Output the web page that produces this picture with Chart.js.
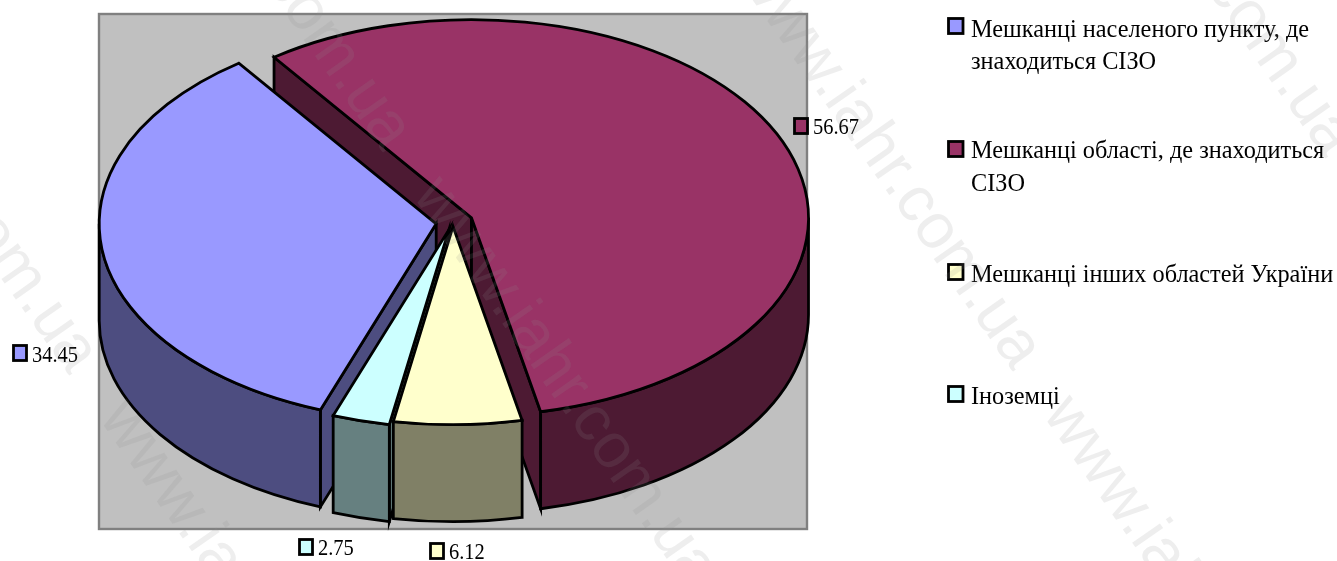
<!DOCTYPE html>
<html><head><meta charset="utf-8">
<script src="https://cdn.jsdelivr.net/npm/chart.js@4"></script>
<style>html,body{margin:0;padding:0;background:#fff}canvas{display:block}</style>
</head><body><canvas id="c" width="1337" height="561"></canvas>
<script>
const categories = [
  ['Мешканці населеного пункту, де', 'знаходиться СІЗО'],
  ['Мешканці області, де знаходиться', 'СІЗО'],
  ['Мешканці інших областей України'],
  ['Іноземці']
];
const values = [34.45, 56.67, 6.12, 2.75];
const valueLabels = ['34.45', '56.67', '6.12', '2.75'];
const topColors = ['#9999FF', '#993366', '#FFFFCC', '#CCFFFF'];
const wallColors = ['#4D4D80', '#4D1A33', '#808066', '#668080'];

const SQUASH = 0.588, DEPTH = 97, RADIUS = 337, ROTATION = 200.1;
const explodeX = [-17.8, 17.5, -1, -5];
const explodeY = [1.8, -4.2, 4.5, 7.5];
const paintOrder = [1, 0, 3, 2];
const plotBox = {l: 99, t: 14, r: 807, b: 529};
const legendBoxes = [[948.5, 18.5], [948.5, 141.5], [948.5, 264.5], [948.5, 386.5]];
const legendBaselines = [[36.5, 68.5], [158, 191], [282], [404]];
const labelBoxes = [[13.5, 345.5], [794.5, 118.5], [430.5, 543.5], [299.5, 539.5]];
const labelTextX = [32, 813, 449, 318];
const labelBaselines = [362, 134, 559, 555];
const watermark = 'www.iahr.com.ua';
const watermarkOrigins = [[412,195],[105.5,-243.5],[-208,-20.5],[98.5,418],[735.5,-24.5],[1042,414],[1048,-237.5]];

function textAt(ctx, s, x, y, sx) {
  ctx.save(); ctx.translate(x, y); ctx.scale(sx, 1); ctx.fillText(s, 0, 0); ctx.restore();
}
function marker(ctx, x, y, w, h, color) {
  ctx.fillStyle = color; ctx.strokeStyle = '#000'; ctx.lineWidth = 2.8;
  ctx.fillRect(x, y, w, h); ctx.strokeRect(x, y, w, h);
}
const pie3d = {
  id: 'pie3d',
  beforeDraw(chart) {
    const c = chart.ctx;
    c.save();
    c.fillStyle = '#C0C0C0'; c.strokeStyle = '#808080'; c.lineWidth = 2.4;
    c.fillRect(plotBox.l, plotBox.t, plotBox.r - plotBox.l, plotBox.b - plotBox.t);
    c.strokeRect(plotBox.l, plotBox.t, plotBox.r - plotBox.l, plotBox.b - plotBox.t);
    c.restore();
  },
  beforeDatasetsDraw(chart) {
    const c = chart.ctx, arcs = chart.getDatasetMeta(0).data;
    const outline = () => { c.strokeStyle = '#000'; c.lineWidth = 2.8; c.lineJoin = 'miter'; c.stroke(); };
    paintOrder.forEach(i => {
      const a = arcs[i], r = a.outerRadius, ry = r * SQUASH;
      const ax = a.x + explodeX[i], ay = a.y + explodeY[i];
      const s = a.startAngle, e = a.endAngle;
      const px = t => ax + r * Math.cos(t), py = t => ay + ry * Math.sin(t);
      c.save();
      c.fillStyle = wallColors[i];
      [[s, Math.cos(s) < 0], [e, Math.cos(e) > 0]].forEach(([t, vis]) => {
        if (!vis) return;
        c.beginPath();
        c.moveTo(ax, ay); c.lineTo(px(t), py(t));
        c.lineTo(px(t), py(t) + DEPTH); c.lineTo(ax, ay + DEPTH); c.closePath();
        c.fill(); outline();
      });
      for (let n = 0; n < 2; n++) {
        const lo = Math.max(s, n * 2 * Math.PI), hi = Math.min(e, n * 2 * Math.PI + Math.PI);
        if (hi <= lo) continue;
        c.beginPath();
        c.ellipse(ax, ay, r, ry, 0, lo, hi, false);
        c.ellipse(ax, ay + DEPTH, r, ry, 0, hi, lo, true);
        c.closePath(); c.fill(); outline();
      }
      c.save();
      c.translate(explodeX[i], a.y + explodeY[i]);
      c.scale(1, SQUASH);
      c.translate(0, -a.y);
      a.draw(c);
      c.restore();
      c.beginPath();
      c.moveTo(ax, ay);
      c.ellipse(ax, ay, r, ry, 0, s, e, false);
      c.closePath(); outline();
      c.restore();
    });
    return false;
  },
  afterDraw(chart) {
    const c = chart.ctx;
    c.save();
    c.textBaseline = 'alphabetic'; c.textAlign = 'left';
    categories.forEach((lines, i) => {
      marker(c, legendBoxes[i][0], legendBoxes[i][1], 14.5, 15, topColors[i]);
      c.fillStyle = '#000'; c.font = '24.3px "Liberation Serif"';
      lines.forEach((t, k) => textAt(c, t, 971, legendBaselines[i][k], 1));
    });
    valueLabels.forEach((t, i) => {
      marker(c, labelBoxes[i][0], labelBoxes[i][1], 13, 15, topColors[i]);
      c.fillStyle = '#000'; c.font = '23px "Liberation Serif"';
      textAt(c, t, labelTextX[i], labelBaselines[i], 0.89);
    });
    c.font = '64px "Liberation Sans"';
    c.fillStyle = 'rgba(140,140,140,0.15)';
    watermarkOrigins.forEach(([x, y]) => {
      c.save(); c.translate(x, y); c.rotate(55 * Math.PI / 180);
      c.fillText(watermark, 0, 0); c.restore();
    });
    c.restore();
  }
};
new Chart(document.getElementById('c'), {
  type: 'pie',
  data: {
    labels: categories.map(l => l.join(' ')),
    datasets: [{ data: values, backgroundColor: topColors, borderWidth: 0, radius: RADIUS, hoverOffset: 0 }]
  },
  options: {
    responsive: false, animation: false, events: [],
    rotation: ROTATION,
    layout: { padding: { right: 429, bottom: 117 } },
    plugins: { legend: { display: false }, tooltip: { enabled: false } }
  },
  plugins: [pie3d]
});
</script></body></html>
